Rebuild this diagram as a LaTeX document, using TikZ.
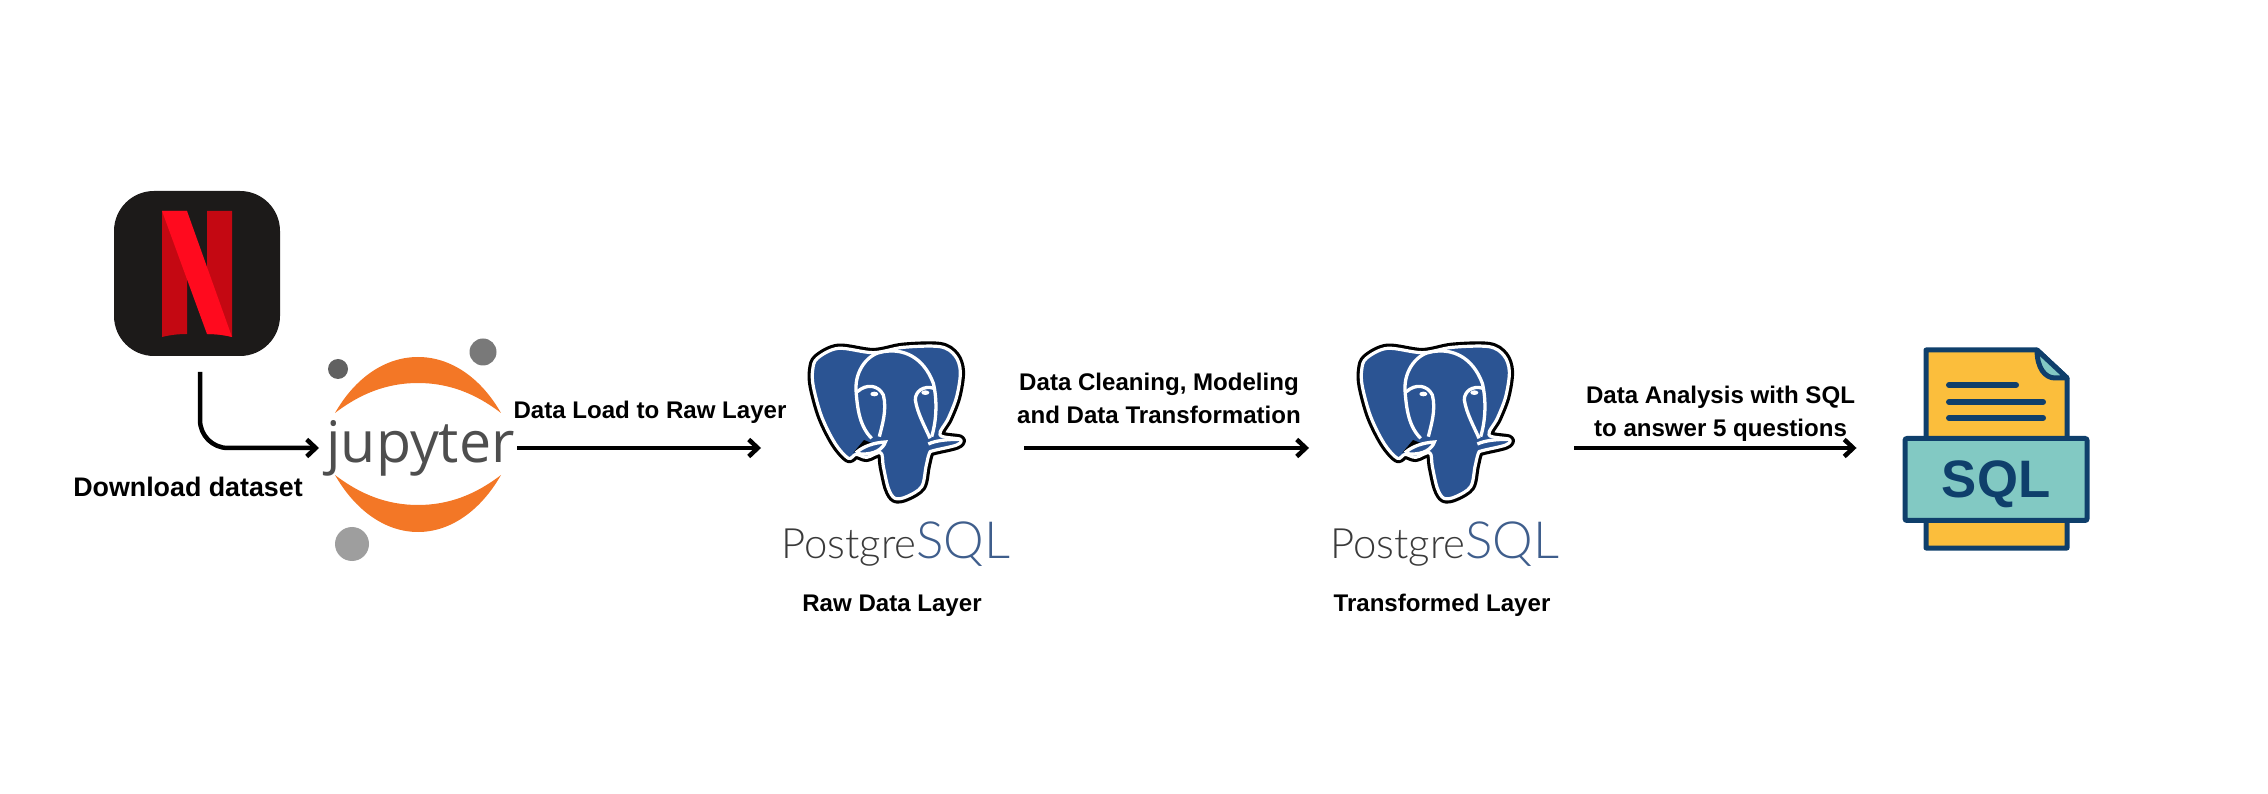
\documentclass[tikz,border=0pt]{standalone}
\usepackage{fontspec}
\usepackage{xcolor}
\setmainfont{Liberation Sans}
\newfontfamily\jupyterfont{Open Sans}
\newfontfamily\pgfont{Lato Light}
\usetikzlibrary{arrows.meta}
\definecolor{nfblack}{HTML}{1C1A19}
\definecolor{nfbright}{HTML}{FF0A1E}
\definecolor{nfdark}{HTML}{C40812}
\definecolor{juporange}{HTML}{F37726}
\definecolor{jupgrey}{HTML}{4E4E4E}
\definecolor{pgblue}{HTML}{2B5493}
\definecolor{pgtext}{HTML}{3A3A3A}
\definecolor{pgsql}{HTML}{3F5E8C}
\definecolor{sqlnavy}{HTML}{0F3F6B}
\definecolor{sqlyellow}{HTML}{FBBE3C}
\definecolor{sqlteal}{HTML}{82C9C3}
\tikzset{
  flow/.style={line width=0.45mm, -{Straight Barb[length=0.9mm,width=1.7mm,line width=0.45mm]}},
  caption/.style={font=\bfseries\fontsize{6.85}{9.4}\selectfont, align=center, inner sep=0pt},
  slot/.style={minimum height=10mm, inner sep=0pt, outer sep=0pt},
  pgline/.style={white, line width=0.33mm},
  sqlline/.style={sqlnavy, line width=0.5mm, line join=round},
  elephant/.pic={
    \begin{scope}[scale=1/3]
    \def\pgshape{plot[smooth cycle, tension=.55] coordinates {(172,115) (235,85) (340,98) (430,82) (540,80) (585,107) (601,155) (590,230) (565,295) (540,345) (600,358) (590,375) (520,392) (508,400) (498,440) (485,500) (440,530) (405,535) (385,505) (370,440) (362,398) (320,412) (288,403) (265,415) (225,370) (185,290) (160,200) (158,150)}}
    \draw[black, line width=0.95mm, line join=round] \pgshape;
    \draw[white, fill=pgblue, line width=0.32mm, line join=round] \pgshape;
    \fill[black] (280,398) -- (312,360) -- (342,372) -- (300,388) -- cycle;
    \draw[pgline] (335,355) .. controls (300,320) and (292,270) .. (288,210) .. controls (285,150) and (325,100) .. (370,95) .. controls (430,85) and (490,110) .. (520,190) .. controls (532,240) and (530,300) .. (515,350);
    \draw[pgline] (292,215) .. controls (320,190) and (355,195) .. (370,225) .. controls (382,270) and (365,320) .. (358,350);
    \draw[pgline] (522,205) .. controls (490,195) and (465,215) .. (466,240) .. controls (472,280) and (495,320) .. (510,355);
    \draw[pgline, fill=pgblue] (292,395) .. controls (310,380) and (340,368) .. (376,366) .. controls (370,385) and (345,405) .. (300,402) -- cycle;
    \draw[pgline] (505,372) .. controls (530,360) and (570,358) .. (600,358);
    \fill[white] (343,222) ellipse (12 and 7);
    \fill[white] (496,218) ellipse (12 and 7);
    \node[text=pgtext, font=\pgfont\fontsize{11.9}{12}\selectfont, anchor=base west, inner sep=0pt] at (62,715) {Postgre\textcolor{pgsql}{\fontsize{14.6}{15}\selectfont SQL}};
    \end{scope}
  }
}
\begin{document}
\begin{tikzpicture}[x=0.1mm,y=-0.1mm]
\useasboundingbox (0,0) rectangle (2268,794);

\node[fill=nfblack, rounded corners=4mm, minimum width=16.6mm, minimum height=16.5mm, inner sep=0pt, outer sep=0pt] (netflix) at (197,273.5) {};
\fill[nfdark] (162,211) -- (187,211) -- (187,334) .. controls (178,334) and (170,335) .. (162,337) -- cycle;
\fill[nfdark] (207,211) -- (232,211) -- (232,337) .. controls (224,335) and (216,334) .. (207,334) -- cycle;
\fill[nfbright] (162,211) -- (187,211) -- (232,337) .. controls (224,335) and (216,334) .. (207,334) -- cycle;

\fill[juporange] (335,413) .. controls (355,378) and (385,357) .. (418,357) .. controls (451,357) and (481,378) .. (501,413) .. controls (475,393) and (448,383) .. (418,383) .. controls (388,383) and (361,393) .. (335,413) -- cycle;
\fill[juporange] (335,475) .. controls (355,510) and (385,532) .. (418,532) .. controls (451,532) and (481,510) .. (501,475) .. controls (475,495) and (448,505) .. (418,505) .. controls (388,505) and (361,495) .. (335,475) -- cycle;
\fill[gray!95!black] (483,352) circle (13.5);
\fill[black!62] (338,369) circle (10);
\fill[black!38] (352,544) circle (17);
\node[slot, minimum width=19.8mm, text=jupgrey, font=\jupyterfont\fontsize{16.3}{17}\selectfont] (jupyter) at (418,448) {\hspace*{0.5mm}jupyter};

\node[slot, minimum width=26.3mm] (rawdb) at (892.5,448) {};
\pic at (760,320) {elephant};
\node[slot, minimum width=26.5mm] (cleandb) at (1441.5,448) {};
\pic at (1309,320) {elephant};

\draw[sqlline, fill=sqlyellow] (1926,350) -- (2037,350) -- (2067,378) -- (2067,548) -- (1926,548) -- cycle;
\draw[sqlline, fill=sqlteal] (2037,350) .. controls (2037,368) and (2045,378) .. (2055,378) -- (2067,378) -- cycle;
\draw[sqlline, line width=0.6mm, line cap=round] (1949,385) -- (2016,385);
\draw[sqlline, line width=0.6mm, line cap=round] (1949,402) -- (2043,402);
\draw[sqlline, line width=0.6mm, line cap=round] (1949,418) -- (2043,418);
\node[draw=sqlnavy, fill=sqlteal, line width=0.5mm, rounded corners=0.2mm, minimum width=18.2mm, minimum height=8.2mm, inner sep=0pt, text=sqlnavy, font=\bfseries\fontsize{15}{15}\selectfont] (sqlfile) at (1996,479.5) {\smash{\raisebox{-1.85mm}{SQL}}};

\draw[flow, rounded corners=2.8mm] ([xshift=0.3mm,yshift=-1.6mm]netflix.south) |- (jupyter.west);
\draw[flow] (jupyter) -- (rawdb);
\draw[flow] (rawdb) -- (cleandb);
\draw[flow, shorten >=4.6mm] (cleandb) -- (cleandb -| sqlfile.west);

\node[caption, font=\bfseries\fontsize{7.63}{9}\selectfont] (download) at (188,487) {Download dataset};
\node[caption] (loadlabel) at (650,412) {Data Load to Raw Layer};
\node[caption] (cleanlabel) at (1159,398.5) {Data Cleaning, Modeling\\and Data Transformation};
\node[caption] (analysislabel) at (1720.5,413.5) {Data Analysis with SQL\\to answer 5 questions};
\node[caption, anchor=base] (rawlabel) at (892,611) {Raw Data Layer};
\node[caption, anchor=base] (transformedlabel) at (1442,611) {Transformed Layer};
\end{tikzpicture}
\end{document}
